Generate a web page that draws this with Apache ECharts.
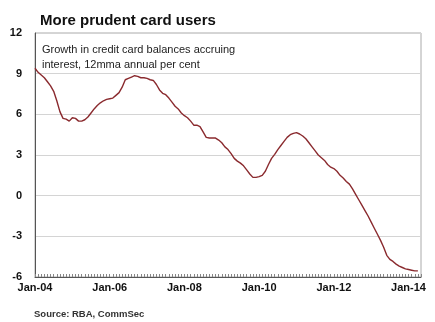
<!DOCTYPE html>
<html><head><meta charset="utf-8">
<script src="https://cdn.jsdelivr.net/npm/echarts@6/dist/echarts.min.js"></script>
<style>html,body{margin:0;padding:0;background:#fff}#c{width:435px;height:322px}</style>
</head><body><div id="c"></div>
<script>
const monthNames = ['Jan','Feb','Mar','Apr','May','Jun','Jul','Aug','Sep','Oct','Nov','Dec'];
const categories = [];
for (let y = 2004; y <= 2014; y++) {
  for (let m = 0; m < 12; m++) {
    if (y === 2014 && m > 4) break;
    categories.push(monthNames[m] + '-' + String(y).slice(2));
  }
}
const growth2004 = [9.4, 9.1, 8.9, 8.7, 8.4, 8.1, 7.7, 7.0, 6.2, 5.7, 5.65, 5.5];
const growth2005 = [5.75, 5.7, 5.5, 5.5, 5.6, 5.8, 6.1, 6.4, 6.65, 6.85, 7.0, 7.1];
const growth2006 = [7.15, 7.2, 7.4, 7.6, 8.0, 8.55, 8.65, 8.75, 8.85, 8.8, 8.7, 8.7];
const growth2007 = [8.65, 8.55, 8.5, 8.2, 7.8, 7.55, 7.45, 7.2, 6.9, 6.6, 6.4, 6.1];
const growth2008 = [5.9, 5.75, 5.5, 5.2, 5.2, 5.1, 4.7, 4.3, 4.25, 4.25, 4.25, 4.1];
const growth2009 = [3.9, 3.6, 3.4, 3.1, 2.75, 2.55, 2.4, 2.2, 1.9, 1.6, 1.35, 1.35];
const growth2010 = [1.4, 1.5, 1.8, 2.3, 2.75, 3.05, 3.4, 3.7, 4.0, 4.3, 4.5, 4.6];
const growth2011 = [4.65, 4.55, 4.4, 4.2, 3.9, 3.6, 3.3, 3.0, 2.8, 2.6, 2.3, 2.1];
const growth2012 = [2.0, 1.8, 1.5, 1.3, 1.05, 0.85, 0.5, 0.1, -0.3, -0.7, -1.1, -1.5];
const growth2013 = [-1.95, -2.4, -2.85, -3.3, -3.8, -4.4, -4.7, -4.85, -5.05, -5.2, -5.3, -5.4];
const growth2014 = [-5.45, -5.5, -5.55, -5.55, null];
const growth = [].concat(growth2004, growth2005, growth2006, growth2007, growth2008, growth2009,
  growth2010, growth2011, growth2012, growth2013, growth2014);
const yTicks = [-6, -3, 0, 3, 6, 9, 12];

const FONT = '"Liberation Sans", Arial, sans-serif';
const chart = echarts.init(document.getElementById('c'), null, {renderer: 'canvas'});
chart.setOption({
  animation: false,
  backgroundColor: '#fff',
  title: [
    {text: 'More prudent card users', left: 35, top: 8,
     textStyle: {fontFamily: FONT, fontSize: 15, fontWeight: 'bold', color: '#111'}},
    {text: 'Growth in credit card balances accruing\ninterest, 12mma annual per cent', left: 37, top: 37,
     textStyle: {fontFamily: FONT, fontSize: 11, fontWeight: 'normal', color: '#222', lineHeight: 15}},
    {text: 'Source: RBA, CommSec', left: 29, top: 304,
     textStyle: {fontFamily: FONT, fontSize: 9.5, fontWeight: 'bold', color: '#333'}}
  ],
  grid: {left: 35, right: 14, top: 33, bottom: 45, show: true, borderColor: '#aaa', borderWidth: 1},
  xAxis: {
    type: 'category', data: categories, boundaryGap: false,
    axisLine: {onZero: false, lineStyle: {color: '#555', width: 1}},
    axisTick: {show: true, interval: 0, inside: true, length: 3, lineStyle: {color: '#888'}},
    axisLabel: {interval: (i) => i % 24 === 0, fontFamily: FONT, fontSize: 11, fontWeight: 'bold', color: '#111', margin: 5},
    splitLine: {show: false}
  },
  yAxis: {
    type: 'value', min: -6, max: 12, interval: 3,
    axisLine: {show: true, lineStyle: {color: '#555', width: 1}},
    axisTick: {show: false},
    axisLabel: {fontFamily: FONT, fontSize: 11, fontWeight: 'bold', color: '#111', margin: 13,
      formatter: (v) => yTicks.includes(v) ? String(v) : ''},
    splitLine: {lineStyle: {color: '#d4d4d4', width: 1}}
  },
  series: [{
    type: 'line', data: growth, showSymbol: false, smooth: false,
    lineStyle: {color: '#8a2a2e', width: 1.4}, connectNulls: false
  }]
});
</script></body></html>
